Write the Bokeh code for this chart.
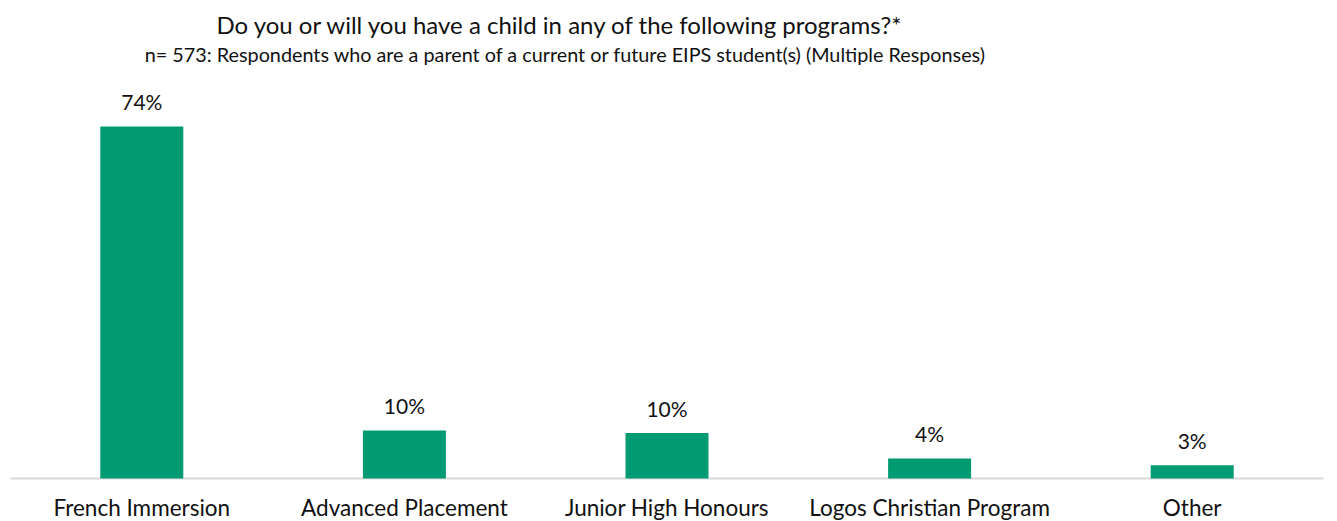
from bokeh.plotting import figure
from bokeh.models import ColumnDataSource, FactorRange, Range1d
from bokeh.embed import file_html
from bokeh.resources import INLINE
from bokeh.core.properties import value

title_text = "Do you or will you have a child in any of the following programs?*"
subtitle_text = "n= 573: Respondents who are a parent of a current or future EIPS student(s) (Multiple Responses)"

categories = ["French Immersion", "Advanced Placement", "Junior High Honours",
              "Logos Christian Program", "Other"]
percentages = [74.1, 10.1, 9.6, 4.2, 2.8]
pct_labels = ["74%", "10%", "10%", "4%", "3%"]

FONT = "Lato"
TEXT_COLOR = "#111111"
BAR_COLOR = "#009B72"
AXIS_COLOR = "#d9d9d9"

W, H = 1333, 521
PX_PER_PCT = 4.75          # vertical scale of the value axis
AXIS_FROM_BOTTOM = 43      # px between baseline (0 %) and bottom of canvas
SIDE_PAD = 10              # px of empty space on each side of the category band
BASE_FIX = 0.35            # bokeh draws alphabetic text ~0.35em lower; compensate

n = len(categories)
cat_px = (W - 2 * SIDE_PAD) / n
pad_units = SIDE_PAD / cat_px          # absolute padding is applied per side

x_range = FactorRange(*categories, range_padding=pad_units,
                      range_padding_units="absolute")
y_start = -AXIS_FROM_BOTTOM / PX_PER_PCT
y_end = (H - AXIS_FROM_BOTTOM) / PX_PER_PCT
y_range = Range1d(y_start, y_end)

p = figure(x_range=x_range, y_range=y_range, width=W, height=H,
           output_backend="svg", toolbar_location=None,
           x_axis_location=None, y_axis_location=None,
           min_border=0, min_border_left=0, min_border_right=0,
           min_border_top=0, min_border_bottom=0)
p.title.visible = False
p.xgrid.grid_line_color = None
p.ygrid.grid_line_color = None
p.outline_line_color = None

src = ColumnDataSource(dict(cat=categories, pct=percentages, lab=pct_labels,
                            bottom=[y_start] * n))

# category axis line, spanning the whole category band
p.segment(x0=[(categories[0], -0.5)], x1=[(categories[-1], 0.5)], y0=[0], y1=[0],
          line_color=AXIS_COLOR, line_width=2)

# bars
p.vbar(x="cat", top="pct", bottom=0, width=0.316, source=src,
       fill_color=BAR_COLOR, line_color=None)


def fix(size_px):
    return BASE_FIX * size_px


# value labels (baseline ~17.5 px above the bar top)
p.text(x="cat", y="pct", text="lab", source=src,
       text_align="center", text_baseline="alphabetic",
       y_offset=-17.5 - fix(21),
       text_font=value(FONT), text_font_size="21px", text_color=TEXT_COLOR)

# category labels (baseline ~6 px above the canvas bottom)
p.text(x="cat", y="bottom", text="cat", source=src,
       text_align="center", text_baseline="alphabetic",
       y_offset=-6 - fix(22.5),
       text_font=value(FONT), text_font_size="22.5px", text_color=TEXT_COLOR)

# titles
title_x = -pad_units + 560 / cat_px
sub_x = -pad_units + 565 / cat_px
p.text(x=[title_x], y=[y_end], text=[title_text], y_offset=32 - fix(24),
       text_align="center", text_baseline="alphabetic",
       text_font=value(FONT), text_font_size="24px", text_color=TEXT_COLOR)
p.text(x=[sub_x], y=[y_end], text=[subtitle_text], y_offset=60 - fix(19.8),
       text_align="center", text_baseline="alphabetic",
       text_font=value(FONT), text_font_size="19.8px", text_color=TEXT_COLOR)

open("out.html", "w").write(file_html(p, INLINE))
